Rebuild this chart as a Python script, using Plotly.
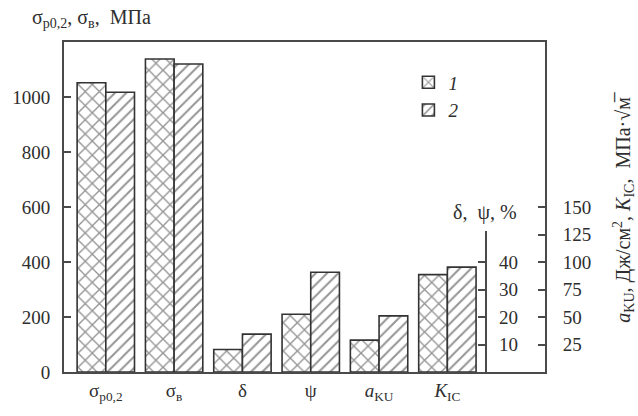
import plotly.graph_objects as go

# ---- data ----
categories = ["σ<sub>p0,2</sub>", "σ<sub>в</sub>", "δ", "ψ", "<i>a</i><sub>KU</sub>", "<i>K</i><sub>IC</sub>"]
series_names = ["<i>1</i>", "<i>2</i>"]
# strength, MPa (left axis)
strength_s1 = [1052, 1138]
strength_s2 = [1017, 1120]
# δ, ψ, % (middle axis)
plastic_s1 = [8.2, 21.0]
plastic_s2 = [13.8, 36.3]
# aKU, J/cm2 and KIC, MPa·√m (right axis)
tough_s1 = [29, 88.5]
tough_s2 = [51, 95.3]

left_ticks = [0, 200, 400, 600, 800, 1000]
mid_ticks = [10, 20, 30, 40]
right_ticks = [25, 50, 75, 100, 125, 150]

FONT = "Liberation Serif, Times New Roman, serif"
TXT = "#2e2e2e"
LINE = "#4a4a4a"
BW = 0.42

pat1 = dict(shape="x", size=10, solidity=0.25, fgcolor="#2a2a2a", bgcolor="white")
pat2 = dict(shape="/", size=8, solidity=0.25, fgcolor="#2a2a2a", bgcolor="white")

fig = go.Figure()

def add(xs, ys, yax, pat, off, name, show):
    fig.add_trace(go.Bar(
        x=xs, y=ys, yaxis=yax, width=BW, offset=off,
        marker=dict(color="white", pattern=pat, line=dict(color="#333333", width=1.6)),
        name=name, legendgroup=name, showlegend=show,
    ))

add([0, 1], strength_s1, "y", pat1, -BW, series_names[0], True)
add([0, 1], strength_s2, "y", pat2, 0, series_names[1], True)
add([2, 3], plastic_s1, "y2", pat1, -BW, series_names[0], False)
add([2, 3], plastic_s2, "y2", pat2, 0, series_names[1], False)
add([4, 5], tough_s1, "y3", pat1, -BW, series_names[0], False)
add([4, 5], tough_s2, "y3", pat2, 0, series_names[1], False)

tickfont = dict(family=FONT, size=19, color=TXT)

fig.update_layout(
    width=638, height=416,
    margin=dict(l=62, r=93, t=42, b=40),
    paper_bgcolor="white", plot_bgcolor="rgba(0,0,0,0)",
    font=dict(family=FONT, size=19, color=TXT),
    barmode="overlay",
    xaxis=dict(
        domain=[0, 1], range=[-0.612, 6.429],
        tickvals=list(range(len(categories))), ticktext=categories,
        showline=True, linecolor=LINE, linewidth=2, mirror=True,
        ticks="", showgrid=False, zeroline=False, tickfont=tickfont,
    ),
    yaxis=dict(
        domain=[0, 1], range=[0, 1200], tickvals=left_ticks,
        showline=True, linecolor=LINE, linewidth=2,
        ticks="inside", ticklen=7, tickcolor=LINE, tickwidth=1.5,
        showgrid=False, zeroline=False, tickfont=tickfont,
        ticklabelstandoff=8,
    ),
    yaxis2=dict(
        domain=[0, 0.428], range=[0, 51.4], tickvals=mid_ticks,
        anchor="free", position=0.878, side="right",
        showline=True, linecolor=LINE, linewidth=2,
        ticks="inside", ticklen=7, tickcolor=LINE, tickwidth=1.5,
        showgrid=False, zeroline=False, tickfont=tickfont,
        ticklabelstandoff=8,
    ),
    yaxis3=dict(
        range=[0, 300], tickvals=right_ticks,
        overlaying="y", anchor="x", side="right",
        showline=True, linecolor=LINE, linewidth=2,
        ticks="inside", ticklen=7, tickcolor=LINE, tickwidth=1.5,
        showgrid=False, zeroline=False, tickfont=tickfont,
        ticklabelstandoff=12,
    ),
    legend=dict(
        x=0.716, y=0.935, xanchor="left", yanchor="top",
        bgcolor="rgba(0,0,0,0)", font=dict(family=FONT, size=19, color=TXT),
        tracegroupgap=0,
    ),
    annotations=[
        dict(text="σ<sub>p0,2</sub>, σ<sub>в</sub>,  МПа", xref="paper", yref="paper",
             x=-0.07, y=1.072, xanchor="left", yanchor="middle", showarrow=False,
             font=dict(family=FONT, size=20, color=TXT)),
        dict(text="δ,  ψ, %", xref="paper", yref="paper",
             x=0.876, y=0.482, xanchor="center", yanchor="middle", showarrow=False,
             font=dict(family=FONT, size=20, color=TXT)),
        dict(text="<i>a</i><sub>KU</sub>, Дж/см<sup>2</sup>, <i>K</i><sub>IC</sub>,  МПа·√м\u0305",
             xref="paper", yref="paper", x=1.1636, y=0.50, textangle=-90,
             xanchor="center", yanchor="middle", showarrow=False,
             font=dict(family=FONT, size=20, color=TXT)),
    ],
)

fig.write_html("out.html", config={"displayModeBar": False},
               post_script="document.body.style.margin='0';document.body.style.padding='0';")
